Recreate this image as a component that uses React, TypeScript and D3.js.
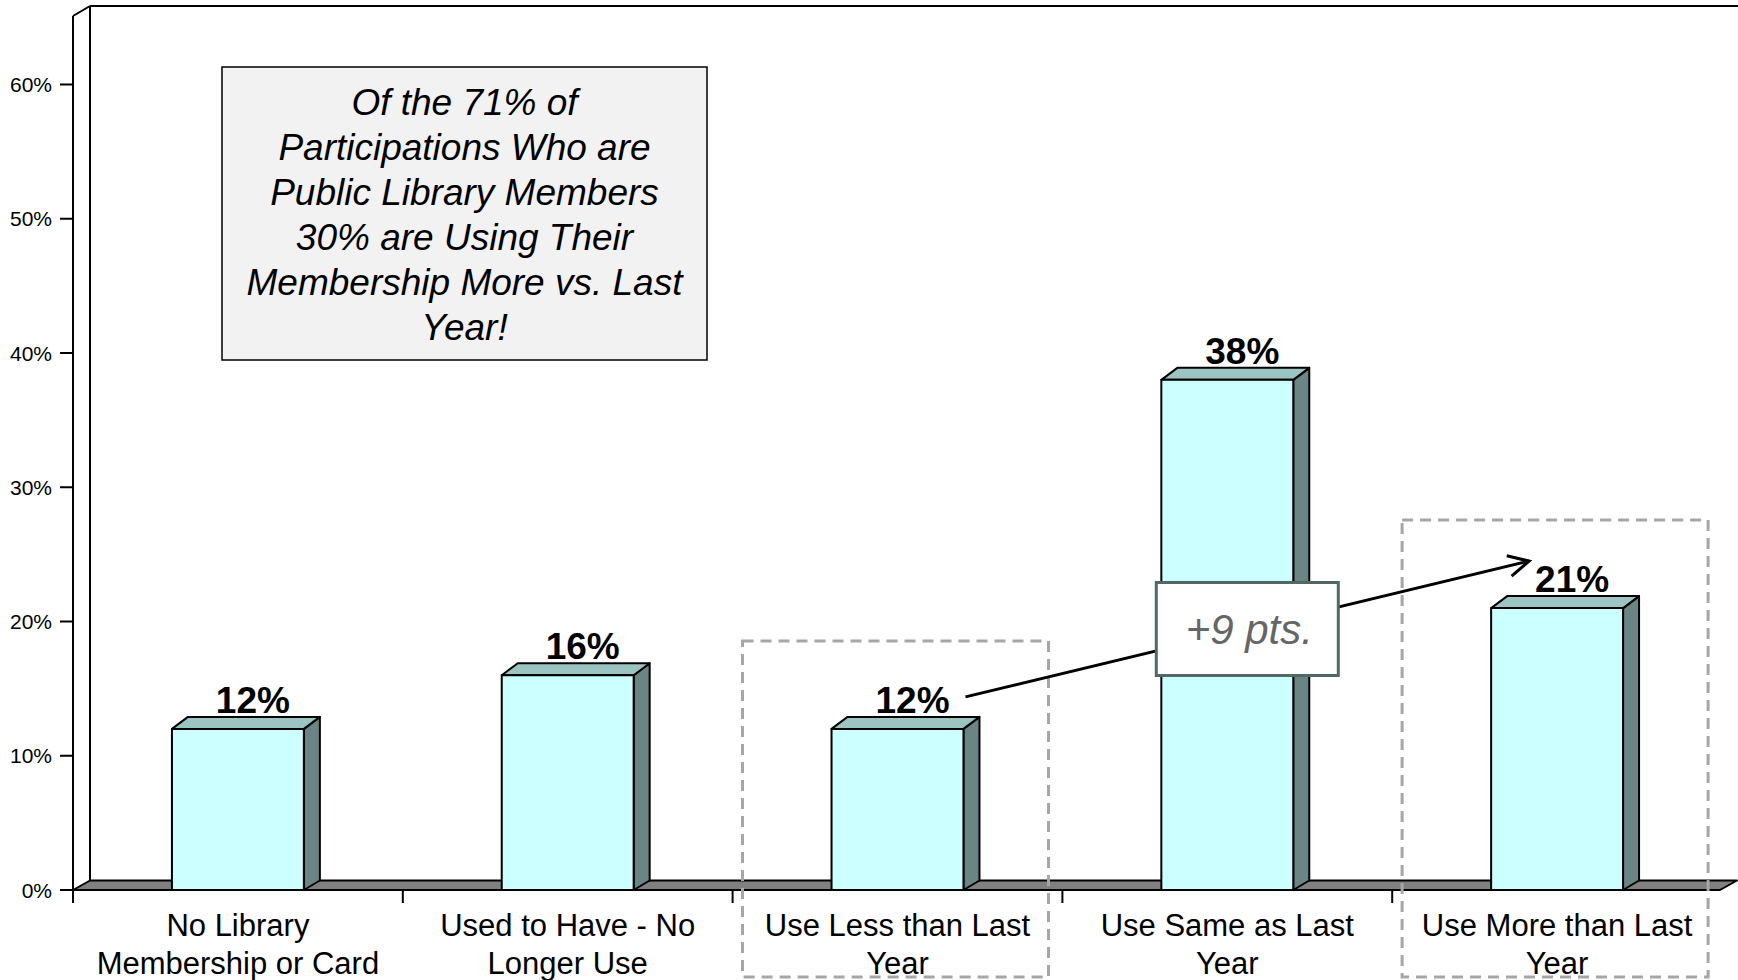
import React from "react";
import * as d3 from "d3";

const categories = [
  "No Library Membership or Card",
  "Used to Have - No Longer Use",
  "Use Less than Last Year",
  "Use Same as Last Year",
  "Use More than Last Year",
];
const categoryLines = [
  ["No Library", "Membership or Card"],
  ["Used to Have - No", "Longer Use"],
  ["Use Less than Last", "Year"],
  ["Use Same as Last", "Year"],
  ["Use More than Last", "Year"],
];
const values = [12, 16, 12, 38, 21];
const yTicks = [0, 10, 20, 30, 40, 50, 60];
const highlighted = ["Use Less than Last Year", "Use More than Last Year"];
const changeFrom = "Use Less than Last Year";
const changeTo = "Use More than Last Year";
const changeLabel = "+9 pts.";
const calloutLines = [
  "Of the 71% of",
  "Participations Who are",
  "Public Library Members",
  "30% are Using Their",
  "Membership More vs. Last",
  "Year!",
];

const W = 1738;
const H = 980;
const FONT = "'Liberation Sans', Arial, Helvetica, sans-serif";

export default function App() {
  const x0 = 73;
  const x1 = 1720;
  const floorY = 890;
  const depthX = 17;
  const depthY = 9.5;
  const barDX = 16;
  const barDY = 12;

  const y = d3.scaleLinear().domain([0, 60]).range([floorY, 84.5]);
  const x = d3.scaleBand().domain(categories).range([x0, 1722]).padding(0);
  const step = x.bandwidth();
  const barW = step * 0.4;
  const cx = (c: string) => (x(c) as number) + step / 2;
  const valOf = (c: string) => values[categories.indexOf(c)];

  // arrow
  const ax1 = cx(changeFrom) + 68;
  const ay1 = y(valOf(changeFrom)) - 32;
  const ax2 = cx(changeTo) - 28;
  const ay2 = y(valOf(changeTo)) - 47;
  const theta = Math.atan2(ay2 - ay1, ax2 - ax1);
  const headL = 23;
  const headA = (27 * Math.PI) / 180;
  const h1 = [ax2 - headL * Math.cos(theta - headA), ay2 - headL * Math.sin(theta - headA)];
  const h2 = [ax2 - headL * Math.cos(theta + headA), ay2 - headL * Math.sin(theta + headA)];
  const mx = (ax1 + ax2) / 2;
  const my = (ay1 + ay2) / 2;
  const boxW = 182;
  const boxH = 93;

  const callout = { x: 222, y: 67, w: 485, h: 293 };

  return (
    <svg
      width={W}
      height={H}
      viewBox={`0 0 ${W} ${H}`}
      style={{ position: "absolute", left: 0, top: 0, background: "#fff" }}
      fontFamily={FONT}
    >
      <rect x={0} y={0} width={W} height={H} fill="#fff" />
      {/* back wall top edge */}
      <line x1={x0 + depthX} y1={6} x2={W} y2={6} stroke="#000" strokeWidth={2} />
      {/* left wall */}
      <line x1={x0 + depthX} y1={6} x2={x0 + depthX} y2={floorY - depthY} stroke="#000" strokeWidth={2} />
      <line x1={x0} y1={16} x2={x0 + depthX} y2={6} stroke="#000" strokeWidth={2} />
      <line x1={x0} y1={16} x2={x0} y2={floorY + 13} stroke="#000" strokeWidth={2} />

      {/* y ticks */}
      {yTicks.map((t) => (
        <g key={t}>
          <line x1={x0 - 13} x2={x0} y1={y(t)} y2={y(t)} stroke="#000" strokeWidth={2} />
          <text x={52} y={y(t)} dy="0.36em" textAnchor="end" fontSize={21} fill="#000">
            {t}%
          </text>
        </g>
      ))}

      {/* floor */}
      <polygon
        points={`${x0},${floorY} ${x1},${floorY} ${x1 + depthX},${floorY - depthY} ${x0 + depthX},${floorY - depthY}`}
        fill="#808080"
        stroke="#000"
        strokeWidth={2}
        strokeLinejoin="round"
      />

      {/* x ticks */}
      {categories.map((c) => (
        <line
          key={c}
          x1={x(c) as number}
          x2={x(c) as number}
          y1={floorY}
          y2={floorY + 13}
          stroke="#000"
          strokeWidth={2}
        />
      ))}

      {/* bars */}
      {categories.map((c, i) => {
        const v = values[i];
        const l = cx(c) - barW / 2;
        const r = cx(c) + barW / 2;
        const t = y(v);
        return (
          <g key={c} stroke="#000" strokeWidth={2} strokeLinejoin="round">
            <polygon
              points={`${r},${t} ${r + barDX},${t - barDY} ${r + barDX},${floorY - depthY} ${r},${floorY}`}
              fill="#6a8583"
            />
            <polygon
              points={`${l},${t} ${l + barDX},${t - barDY} ${r + barDX},${t - barDY} ${r},${t}`}
              fill="#9cc4c2"
            />
            <rect x={l} y={t} width={barW} height={floorY - t} fill="#ccffff" />
          </g>
        );
      })}

      {/* value labels */}
      {categories.map((c, i) => (
        <text
          key={c}
          x={cx(c) + 15}
          y={y(values[i]) - 16}
          textAnchor="middle"
          fontSize={37}
          fontWeight="bold"
          fill="#000"
        >
          {values[i]}%
        </text>
      ))}

      {/* category labels */}
      {categories.map((c, i) => (
        <text key={c} textAnchor="middle" fontSize={31} fill="#000">
          {categoryLines[i].map((ln, j) => (
            <tspan key={j} x={cx(c)} y={936 + j * 38}>
              {ln}
            </tspan>
          ))}
        </text>
      ))}

      {/* highlight dashed boxes */}
      {highlighted.map((c) => (
        <rect
          key={c}
          x={cx(c) - 2 - 153}
          y={y(valOf(c)) - 88}
          width={306}
          height={977 - (y(valOf(c)) - 88)}
          fill="none"
          stroke="#a6a6a6"
          strokeWidth={3}
          strokeDasharray="11 7"
        />
      ))}

      {/* change arrow */}
      <line x1={ax1} y1={ay1} x2={ax2} y2={ay2} stroke="#000" strokeWidth={3} />
      <polyline
        points={`${h1[0]},${h1[1]} ${ax2},${ay2} ${h2[0]},${h2[1]}`}
        fill="none"
        stroke="#000"
        strokeWidth={3}
        strokeLinejoin="miter"
      />
      <rect
        x={mx - boxW / 2}
        y={my - boxH / 2}
        width={boxW}
        height={boxH}
        fill="#fff"
        stroke="#526866"
        strokeWidth={3}
      />
      <text
        x={mx + 2}
        y={my}
        dy="0.36em"
        textAnchor="middle"
        fontSize={42}
        fontStyle="italic"
        fill="#666"
      >
        {changeLabel}
      </text>

      {/* callout box */}
      <rect
        x={callout.x}
        y={callout.y}
        width={callout.w}
        height={callout.h}
        fill="#f2f2f2"
        stroke="#000"
        strokeWidth={1.5}
      />
      <text textAnchor="middle" fontSize={37} fontStyle="italic" fill="#000">
        {calloutLines.map((ln, j) => (
          <tspan key={j} x={callout.x + callout.w / 2} y={115 + j * 45}>
            {ln}
          </tspan>
        ))}
      </text>
    </svg>
  );
}
